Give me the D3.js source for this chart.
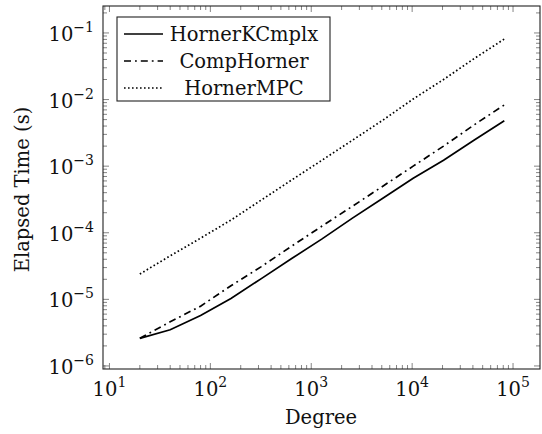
<!DOCTYPE html>
<html>
<head>
<meta charset="utf-8">
<script src="https://cdn.jsdelivr.net/npm/d3@7"></script>
<style>
	body { margin: 0; background: #fff; }
</style>
</head>
<body>
<svg width="542" height="434"></svg>
<script>
var degrees = [20, 40, 80, 160, 320, 640, 1280, 2560, 5120, 10240, 20480, 40960, 81920];

var hornerKCmplx = [2.6e-6, 3.5e-6, 5.7e-6, 1.03e-5, 2.05e-5, 4.1e-5, 8.1e-5, 1.66e-4, 3.3e-4, 6.6e-4, 1.23e-3, 2.45e-3, 4.8e-3];
var compHorner = [2.6e-6, 4.6e-6, 7.9e-6, 1.6e-5, 3.1e-5, 6.3e-5, 1.26e-4, 2.5e-4, 5.0e-4, 1.0e-3, 2.0e-3, 4.15e-3, 8.3e-3];
var hornerMPC = [2.4e-5, 4.5e-5, 8.3e-5, 1.55e-4, 3.1e-4, 6.2e-4, 1.23e-3, 2.45e-3, 4.9e-3, 1.02e-2, 2.0e-2, 4.1e-2, 8.1e-2];

var seriesNames = ["HornerKCmplx", "CompHorner", "HornerMPC"];
var xTickExps = [1, 2, 3, 4, 5];
var yTickExps = [-6, -5, -4, -3, -2, -1];
var xLabel = "Degree",
	yLabel = "Elapsed Time (s)";

var fs = 19.5, fsSup = 14;

var svg = d3.select("svg")
		.attr("font-family", "DejaVu Serif")
		.attr("fill", "#111"),
	margin = {top: 6, right: 2, bottom: 65, left: 103},
	width = +svg.attr("width") - margin.left - margin.right,
	height = +svg.attr("height") - margin.top - margin.bottom,
	g = svg.append("g").attr("transform", "translate(" + margin.left + "," + margin.top + ")");

var x = d3.scaleLog().domain([8.63, 185000]).range([0, width]);
var y = d3.scaleLog().domain([9.0e-7, 0.254]).range([height, 0]);

// ticks (inward, all four sides)
function minors(lo, hi) {
	var out = [];
	for (var e = lo; e <= hi; e++)
		for (var m = 2; m <= 9; m++) out.push(m * Math.pow(10, e));
	return out;
}

var xMaj = xTickExps.map(function(e) { return Math.pow(10, e); });
var yMaj = yTickExps.map(function(e) { return Math.pow(10, e); });
var xMin = minors(0, 5).filter(function(v) { return v > x.domain()[0] && v < x.domain()[1]; });
var yMin = minors(-7, -1).filter(function(v) { return v > y.domain()[0] && v < y.domain()[1]; });

var ticks = g.append("g").attr("stroke", "#666").attr("stroke-width", 0.8);

function xTicks(vals, len) {
	vals.forEach(function(v) {
		ticks.append("line").attr("x1", x(v)).attr("x2", x(v)).attr("y1", height).attr("y2", height - len);
		ticks.append("line").attr("x1", x(v)).attr("x2", x(v)).attr("y1", 0).attr("y2", len);
	});
}
function yTicks(vals, len) {
	vals.forEach(function(v) {
		ticks.append("line").attr("y1", y(v)).attr("y2", y(v)).attr("x1", 0).attr("x2", len);
		ticks.append("line").attr("y1", y(v)).attr("y2", y(v)).attr("x1", width).attr("x2", width - len);
	});
}
xTicks(xMaj, 6); xTicks(xMin, 4);
yTicks(yMaj, 6); yTicks(yMin, 4);

// tick labels
xTickExps.forEach(function(e) {
	var t = g.append("text")
		.attr("x", x(Math.pow(10, e)))
		.attr("y", height + 27)
		.attr("text-anchor", "middle")
		.attr("font-size", fs);
	t.append("tspan").text("10");
	t.append("tspan").attr("dy", -9).attr("font-size", fsSup).text(e);
});

yTickExps.forEach(function(e) {
	var t = g.append("text")
		.attr("x", -9)
		.attr("y", y(Math.pow(10, e)) + 8)
		.attr("text-anchor", "end")
		.attr("font-size", fs);
	t.append("tspan").text("10");
	t.append("tspan").attr("dy", -9).attr("font-size", fsSup).text("\u2212" + Math.abs(e));
});

// axis titles
g.append("text")
	.attr("x", width / 2 - 0.5)
	.attr("y", height + 55)
	.attr("text-anchor", "middle")
	.attr("font-size", fs)
	.text(xLabel);

g.append("text")
	.attr("transform", "translate(-74," + (height / 2 + 2) + ") rotate(-90)")
	.attr("text-anchor", "middle")
	.attr("font-size", fs)
	.text(yLabel);

// series
var styles = [
	{values: hornerKCmplx, dash: null},
	{values: compHorner, dash: "7,4,1.8,4"},
	{values: hornerMPC, dash: "1.6,2.4"}
];

var line = d3.line()
	.x(function(d) { return x(d[0]); })
	.y(function(d) { return y(d[1]); });

styles.forEach(function(s) {
	g.append("path")
		.datum(degrees.map(function(d, i) { return [d, s.values[i]]; }))
		.attr("fill", "none")
		.attr("stroke", "#000")
		.attr("stroke-width", 1.7)
		.attr("stroke-dasharray", s.dash)
		.attr("d", line);
});

// frame
g.append("rect")
	.attr("width", width)
	.attr("height", height)
	.attr("fill", "none")
	.attr("stroke", "#222")
	.attr("stroke-width", 1.1);

// legend
var lg = g.append("g").attr("transform", "translate(14,11)");
lg.append("rect")
	.attr("width", 213)
	.attr("height", 84)
	.attr("fill", "#fff")
	.attr("stroke", "#222")
	.attr("stroke-width", 1.1);

seriesNames.forEach(function(name, i) {
	var cy = 17 + i * 27;
	lg.append("line")
		.attr("x1", 7).attr("x2", 46)
		.attr("y1", cy).attr("y2", cy)
		.attr("stroke", "#000")
		.attr("stroke-width", 1.7)
		.attr("stroke-dasharray", styles[i].dash);
	lg.append("text")
		.attr("x", 127)
		.attr("y", cy + 7)
		.attr("text-anchor", "middle")
		.attr("font-size", fs)
		.text(name);
});
</script>
</body>
</html>
